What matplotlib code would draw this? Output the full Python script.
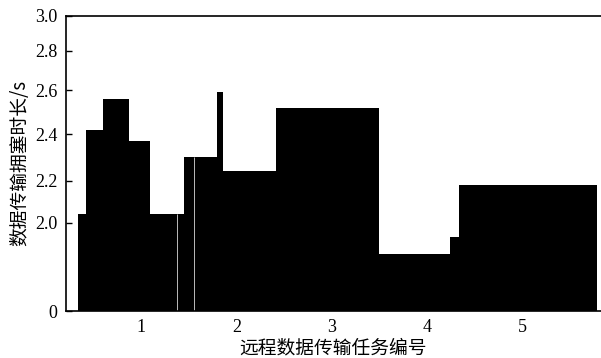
import numpy as np
import matplotlib
matplotlib.use("Agg")
import matplotlib.pyplot as plt
from matplotlib.ticker import FixedLocator, FixedFormatter

plt.rcParams["font.family"] = ["Liberation Serif", "Noto Sans CJK SC", "DejaVu Sans"]

# step edges along the task axis and congestion time of each step
edges = [0.333, 0.420, 0.595, 0.874, 1.092, 1.378, 1.448, 1.553,
         1.792, 1.861, 2.414, 3.498, 4.240, 4.334, 5.785]
heights = [2.04, 2.42, 2.56, 2.37, 2.04, 2.04, 2.30, 2.30,
           2.59, 2.24, 2.52, 1.30, 1.68, 2.18]
gap_after = [4, 6]   # thin white separators after these steps

x_ticks = [1, 2, 3, 4, 5]
y_ticks = [0, 2.0, 2.2, 2.4, 2.6, 2.8, 3.0]
y_tick_labels = ["0", "2.0", "2.2", "2.4", "2.6", "2.8", "3.0"]
# uneven spacing of the original axis (relative positions of y ticks)
y_tick_pos = [0, 88, 130, 176, 220, 259.3, 294.3]


def fwd(v):
    return np.interp(v, y_ticks, y_tick_pos)


def inv(p):
    return np.interp(p, y_tick_pos, y_ticks)


fig = plt.figure(figsize=(6.01, 3.58), dpi=100)
ax = fig.add_axes([66 / 601, 1 - 311 / 358, 1 - 66 / 601, (311 - 15.7) / 358])

ax.set_yscale("function", functions=(fwd, inv))
ax.stairs(heights, edges, fill=True, color="black", linewidth=0)

for i in gap_after:
    ax.vlines(edges[i + 1], 0, min(heights[i], heights[i + 1]),
              color="#bbbbbb", linewidth=0.7)

ax.set_xlim(0.21, 5.824)
ax.set_ylim(0, 3.0)

ax.xaxis.set_major_locator(FixedLocator(x_ticks))
ax.yaxis.set_major_locator(FixedLocator(y_ticks))
ax.yaxis.set_major_formatter(FixedFormatter(y_tick_labels))
ax.yaxis.set_minor_locator(FixedLocator([]))

ax.tick_params(axis="y", direction="in", length=4, width=1, labelsize=13, pad=6)
ax.tick_params(axis="x", length=0, labelsize=13, pad=6)

for side in ["left", "top", "bottom"]:
    ax.spines[side].set_linewidth(1.2)
ax.spines["right"].set_visible(False)

ax.set_xlabel("远程数据传输任务编号", fontsize=13.5, labelpad=1,
              family=["Noto Sans CJK SC", "DejaVu Sans"])
ax.set_ylabel("数据传输拥塞时长/s", fontsize=13.5, labelpad=4,
              family=["Noto Sans CJK SC", "DejaVu Sans"])

fig.savefig("out.png", dpi=100)
